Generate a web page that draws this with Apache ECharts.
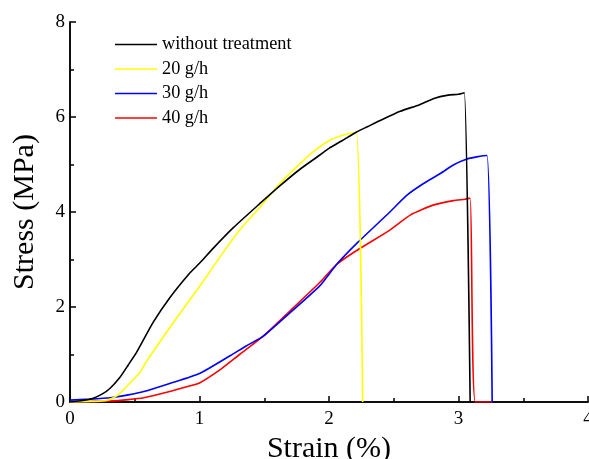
<!DOCTYPE html>
<html>
<head>
<meta charset="utf-8">
<script src="https://cdn.jsdelivr.net/npm/echarts@6/dist/echarts.min.js"></script>
<style>
html,body{margin:0;padding:0;background:#fff;}
#c{width:589px;height:459px;}
</style>
</head>
<body>
<div id="c"></div>
<script>
var seriesNames = ['without treatment', '20 g/h', '30 g/h', '40 g/h'];
var seriesColors = ['#000000', '#ffff00', '#0000ff', '#ff0000'];

var blackX = [0, 0.1, 0.18, 0.25, 0.31, 0.386, 0.45, 0.515, 0.643, 0.772, 0.927, 1.0, 1.107, 1.261, 1.467, 1.62, 1.776, 1.93, 2.0, 2.1, 2.21, 2.3, 2.39, 2.55, 2.7, 2.81, 2.92, 3.0, 3.045, 3.09];
var blackY = [0, 0.03, 0.08, 0.17, 0.29, 0.52, 0.78, 1.05, 1.68, 2.2, 2.72, 2.92, 3.24, 3.67, 4.18, 4.55, 4.9, 5.2, 5.34, 5.5, 5.68, 5.8, 5.92, 6.12, 6.26, 6.39, 6.46, 6.48, 6.51, 0];

var yellowX = [0, 0.2, 0.28, 0.35, 0.4, 0.46, 0.54, 0.59, 0.72, 0.85, 1.0, 1.16, 1.31, 1.47, 1.61, 1.75, 1.88, 2.0, 2.11, 2.21, 2.26];
var yellowY = [0, 0.01, 0.03, 0.11, 0.22, 0.39, 0.62, 0.85, 1.37, 1.87, 2.43, 3.06, 3.62, 4.11, 4.57, 4.95, 5.27, 5.5, 5.62, 5.68, 0];

var blueX = [0, 0.15, 0.31, 0.45, 0.57, 0.77, 1.0, 1.24, 1.36, 1.49, 1.7, 1.93, 2.06, 2.226, 2.47, 2.6, 2.73, 2.86, 2.96, 3.06, 3.14, 3.22, 3.26];
var blueY = [0.04, 0.06, 0.09, 0.15, 0.22, 0.39, 0.6, 0.98, 1.18, 1.38, 1.88, 2.45, 2.9, 3.37, 4.0, 4.35, 4.6, 4.81, 4.99, 5.11, 5.16, 5.19, 0];

var redX = [0, 0.15, 0.31, 0.45, 0.57, 0.77, 0.9, 1.0, 1.16, 1.31, 1.49, 1.7, 1.93, 2.06, 2.226, 2.47, 2.63, 2.81, 2.96, 3.05, 3.09, 3.13, 3.26];
var redY = [0, 0.01, 0.02, 0.05, 0.09, 0.22, 0.32, 0.4, 0.68, 1.0, 1.38, 1.92, 2.52, 2.9, 3.21, 3.62, 3.94, 4.15, 4.24, 4.27, 4.29, 0, 0];

var xTicks = [0, 1, 2, 3, 4];
var yTicks = [0, 2, 4, 6, 8];

function pairs(xs, ys) { return xs.map(function (x, i) { return [x, ys[i]]; }); }
var allData = [pairs(blackX, blackY), pairs(yellowX, yellowY), pairs(blueX, blueY), pairs(redX, redY)];

var FONT = 'Liberation Serif';
var axisLine = { show: true, lineStyle: { color: '#000', width: 1.5 } };

var chart = echarts.init(document.getElementById('c'), null, { renderer: 'canvas' });
chart.setOption({
  animation: false,
  backgroundColor: '#ffffff',
  grid: { left: 70, right: 1, top: 22, bottom: 57, containLabel: false, outerBoundsMode: 'none' },
  legend: {
    orient: 'vertical',
    left: 115,
    top: 35,
    padding: 0,
    itemWidth: 42,
    itemHeight: 14,
    itemGap: 5.5,
    icon: 'path://M0,0 L42,0 L42,1.5 L0,1.5 Z',
    data: seriesNames,
    textStyle: { fontFamily: FONT, fontSize: 18.3, color: '#000', lineHeight: 19 }
  },
  xAxis: [{
    type: 'value', min: xTicks[0], max: xTicks[xTicks.length - 1], interval: 1,
    name: 'Strain (%)', nameLocation: 'middle', nameGap: 21,
    nameTextStyle: { fontFamily: FONT, fontSize: 30, color: '#000' },
    axisLine: axisLine,
    axisTick: { show: true, inside: true, length: 6, lineStyle: { color: '#000', width: 1.5 } },
    minorTick: { show: true, splitNumber: 2, length: 4, lineStyle: { color: '#000', width: 1.5 } },
    axisLabel: { fontFamily: FONT, fontSize: 19, color: '#000', margin: 8, showMaxLabel: true },
    splitLine: { show: false }
  }, {
    type: 'value', position: 'top', min: 0, max: 4,
    axisLine: axisLine, axisTick: { show: false }, axisLabel: { show: false }, splitLine: { show: false }
  }],
  yAxis: [{
    type: 'value', min: yTicks[0], max: yTicks[yTicks.length - 1], interval: 2,
    name: 'Stress (MPa)', nameLocation: 'middle', nameGap: 30, nameRotate: 90,
    nameTextStyle: { fontFamily: FONT, fontSize: 30, color: '#000' },
    axisLine: axisLine,
    axisTick: { show: true, inside: true, length: 6, lineStyle: { color: '#000', width: 1.5 } },
    minorTick: { show: true, splitNumber: 2, length: 4, lineStyle: { color: '#000', width: 1.5 } },
    axisLabel: { fontFamily: FONT, fontSize: 19, color: '#000', margin: 5 },
    splitLine: { show: false }
  }, {
    type: 'value', position: 'right', min: 0, max: 8,
    axisLine: axisLine, axisTick: { show: false }, axisLabel: { show: false }, splitLine: { show: false }
  }],
  series: seriesNames.map(function (n, i) {
    return {
      name: n, type: 'line', data: allData[i], symbol: 'none', showSymbol: false,
      smooth: 0.2,
      xAxisIndex: 0, yAxisIndex: 0,
      lineStyle: { color: seriesColors[i], width: 1.6 },
      itemStyle: { color: seriesColors[i] },
      z: 10 - i
    };
  })
});
</script>
</body>
</html>
